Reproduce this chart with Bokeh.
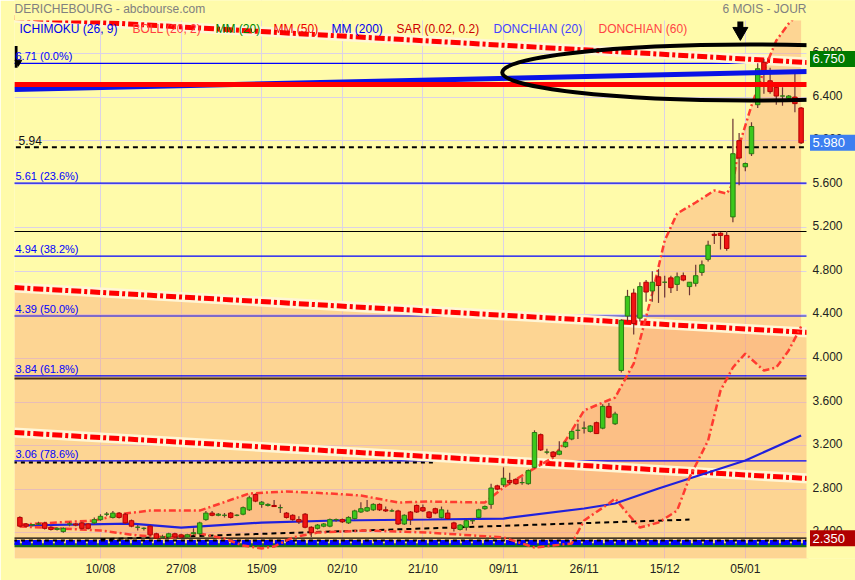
import numpy as np
from bokeh.plotting import figure
from bokeh.models import ColumnDataSource, FixedTicker, Label
from bokeh.embed import file_html
from bokeh.resources import INLINE
from bokeh.core.properties import value

# ---------------- data ----------------
tick_idx = [13, 26, 39, 52, 65, 78, 91, 104, 117]
tick_labels = ["10/08", "27/08", "15/09", "02/10", "21/10", "09/11", "26/11", "15/12", "05/01"]
price_ticks = [2.4, 2.8, 3.2, 3.6, 4.0, 4.4, 4.8, 5.2, 5.6, 6.0, 6.4, 6.8]

opens = [2.54, 2.48, 2.47, 2.48, 2.49, 2.45, 2.43, 2.41, 2.48, 2.48,
         2.49, 2.48, 2.49, 2.52, 2.57, 2.54, 2.58, 2.57, 2.51, 2.45,
         2.44, 2.46, 2.39, 2.36, 2.36, 2.39, 2.38, 2.36, 2.39, 2.39,
         2.52, 2.58, 2.56, 2.56, 2.58, 2.56, 2.57, 2.61, 2.75, 2.66,
         2.65, 2.65, 2.63, 2.58, 2.56, 2.52, 2.57, 2.45, 2.44, 2.46,
         2.46, 2.52, 2.52, 2.49, 2.53, 2.59, 2.60, 2.61, 2.66, 2.61,
         2.60, 2.60, 2.48, 2.59, 2.65, 2.63, 2.59, 2.62, 2.54, 2.58,
         2.49, 2.43, 2.45, 2.51, 2.54, 2.62, 2.66, 2.83, 2.84, 2.88,
         2.89, 2.86, 2.85, 3.00, 3.30, 3.14, 3.14, 3.12, 3.19, 3.26,
         3.34, 3.36, 3.33, 3.41, 3.36, 3.56, 3.40, 3.89, 4.39, 4.60,
         4.37, 4.70, 4.62, 4.75, 4.70, 4.74, 4.68, 4.76, 4.66, 4.69,
         4.79, 4.91, 5.14, 5.15, 5.13, 5.30, 6.00, 5.76, 5.88, 6.33,
         6.72, 6.55, 6.49, 6.41, 6.39, 6.40, 6.30]
highs = [2.55, 2.49, 2.48, 2.50, 2.50, 2.46, 2.45, 2.45, 2.50, 2.49,
         2.50, 2.49, 2.54, 2.57, 2.59, 2.60, 2.59, 2.58, 2.52, 2.47,
         2.45, 2.47, 2.40, 2.38, 2.40, 2.40, 2.39, 2.39, 2.44, 2.50,
         2.60, 2.60, 2.58, 2.58, 2.59, 2.57, 2.64, 2.74, 2.76, 2.69,
         2.67, 2.70, 2.66, 2.59, 2.57, 2.55, 2.58, 2.46, 2.48, 2.49,
         2.53, 2.53, 2.53, 2.55, 2.61, 2.68, 2.70, 2.67, 2.67, 2.64,
         2.62, 2.61, 2.57, 2.60, 2.66, 2.66, 2.60, 2.63, 2.64, 2.61,
         2.50, 2.48, 2.52, 2.53, 2.62, 2.65, 2.85, 2.84, 3.00, 2.95,
         2.90, 2.91, 2.98, 3.34, 3.31, 3.17, 3.15, 3.24, 3.24, 3.34,
         3.40, 3.42, 3.39, 3.42, 3.58, 3.59, 3.51, 4.36, 4.63, 4.64,
         4.70, 4.72, 4.80, 4.82, 4.76, 4.76, 4.79, 4.79, 4.70, 4.86,
         4.90, 5.08, 5.16, 5.16, 5.17, 6.20, 6.07, 5.80, 6.17, 6.71,
         6.75, 6.67, 6.50, 6.49, 6.42, 6.63, 6.31]
lows = [2.45, 2.45, 2.46, 2.47, 2.43, 2.42, 2.42, 2.40, 2.46, 2.46,
        2.43, 2.43, 2.48, 2.51, 2.55, 2.53, 2.53, 2.48, 2.45, 2.42,
        2.42, 2.37, 2.35, 2.35, 2.35, 2.35, 2.35, 2.35, 2.38, 2.38,
        2.51, 2.55, 2.55, 2.54, 2.53, 2.55, 2.56, 2.60, 2.68, 2.63,
        2.64, 2.64, 2.58, 2.53, 2.51, 2.48, 2.44, 2.36, 2.43, 2.45,
        2.45, 2.50, 2.49, 2.48, 2.52, 2.58, 2.59, 2.60, 2.60, 2.59,
        2.59, 2.47, 2.47, 2.47, 2.58, 2.59, 2.53, 2.57, 2.53, 2.52,
        2.41, 2.42, 2.42, 2.48, 2.53, 2.61, 2.62, 2.79, 2.82, 2.84,
        2.84, 2.84, 2.84, 2.99, 3.15, 3.12, 3.09, 3.11, 3.18, 3.25,
        3.26, 3.31, 3.32, 3.31, 3.35, 3.45, 3.39, 3.87, 4.34, 4.22,
        4.34, 4.52, 4.52, 4.51, 4.56, 4.60, 4.62, 4.71, 4.58, 4.66,
        4.76, 4.89, 5.05, 5.00, 4.99, 5.25, 5.59, 5.72, 5.86, 6.30,
        6.43, 6.43, 6.33, 6.32, 6.36, 6.26, 5.97]
closes = [2.46, 2.46, 2.475, 2.48, 2.44, 2.43, 2.44, 2.44, 2.48, 2.47,
          2.44, 2.44, 2.52, 2.55, 2.57, 2.58, 2.54, 2.49, 2.46, 2.45,
          2.44, 2.38, 2.35, 2.36, 2.39, 2.36, 2.36, 2.38, 2.40, 2.49,
          2.58, 2.56, 2.57, 2.56, 2.54, 2.56, 2.63, 2.72, 2.69, 2.68,
          2.66, 2.64, 2.63, 2.54, 2.52, 2.50, 2.45, 2.40, 2.47, 2.48,
          2.52, 2.52, 2.50, 2.54, 2.60, 2.62, 2.63, 2.66, 2.61, 2.60,
          2.60, 2.48, 2.56, 2.52, 2.59, 2.60, 2.54, 2.58, 2.61, 2.53,
          2.44, 2.47, 2.51, 2.51, 2.61, 2.64, 2.81, 2.80, 2.90, 2.86,
          2.85, 2.86, 2.97, 3.32, 3.16, 3.14, 3.10, 3.15, 3.23, 3.33,
          3.34, 3.36, 3.38, 3.31, 3.56, 3.46, 3.49, 4.35, 4.57, 4.32,
          4.66, 4.61, 4.70, 4.67, 4.70, 4.65, 4.75, 4.72, 4.70, 4.76,
          4.86, 5.04, 5.13, 5.13, 5.01, 5.88, 5.84, 5.79, 6.13, 6.66,
          6.62, 6.45, 6.41, 6.41, 6.41, 6.34, 5.98]

# Bollinger bands (read at anchor points)
boll_up_idx = [0, 12, 17, 21, 29, 37, 43, 50, 55, 61, 66, 75, 78, 81, 86, 88, 91, 94, 96,
               99, 102, 104, 106, 109, 112, 114, 115, 116, 118, 120, 122, 124, 126]
boll_up = [2.475, 2.512, 2.576, 2.603, 2.603, 2.760, 2.778, 2.760, 2.741, 2.677, 2.686,
           2.677, 2.815, 2.925, 3.090, 3.246, 3.522, 3.595, 3.641, 3.953, 4.596, 5.083,
           5.331, 5.432, 5.542, 5.514, 5.606, 5.955, 6.322, 6.644, 6.919, 7.075, 7.195]
boll_lo_idx = [0, 13, 19, 25, 29, 33, 36, 39, 41, 44, 48, 56, 66, 78, 83, 89, 91, 95, 96,
               98, 100, 103, 106, 108, 111, 113, 115, 117, 120, 122, 124, 126]
boll_lo = [2.457, 2.420, 2.374, 2.356, 2.392, 2.346, 2.282, 2.255, 2.273, 2.356, 2.401,
           2.420, 2.401, 2.356, 2.264, 2.300, 2.512, 2.668, 2.714, 2.576, 2.447, 2.493,
           2.603, 2.907, 3.246, 3.705, 3.917, 4.045, 3.889, 3.917, 4.073, 4.293]

# moving average (blue)
ma_idx = [0, 18, 26, 39, 51, 66, 78, 91, 96, 103, 108, 117, 126]
ma_val = [2.466, 2.484, 2.447, 2.493, 2.512, 2.521, 2.530, 2.622, 2.668, 2.806, 2.897, 3.063, 3.292]

# trend lines (two end points each)
trend_idx = [-0.9, 127.2]
trend_a = [4.651, 4.238]
trend_b = [3.320, 2.897]
trend_c = [7.131, 6.717]
blue_top = [6.469, 6.635]
red_top = [6.515, 6.515]
support_idx = [13, 108]
support_val = [2.34, 2.52]

# Fibonacci retracements
fib_levels = [6.71, 5.61, 4.94, 4.39, 3.84, 3.06]
fib_labels = ["6.71  (0.0%)", "5.61  (23.6%)", "4.94  (38.2%)", "4.39  (50.0%)",
              "3.84  (61.8%)", "3.06  (78.6%)"]
black_levels = [5.166, 3.816, 2.35]
dashed_level = 5.94
dashed_short_level = 3.045
dashed_short_end = 67
bottom_blue = 2.31
bottom_green = 2.285
bottom_dots = 2.328

# circled zone
ell_center = (117.8, 6.626)
ell_size = (80, 0.514)

# last values boxes
last_vals = [6.75, 5.98, 2.35]
last_texts = ["6.750", "5.980", "2.350"]

legend_items = ["ICHIMOKU (26, 9)", "BOLL (20, 2)", "MM (20)", "MM (50)", "MM (200)",
                "SAR (0.02, 0.2)", "DONCHIAN (20)", "DONCHIAN (60)"]

# ---------------- styling / layout ----------------
BG = "#FFFBAA"
FONT = "Liberation Sans"
PXI = 6.2                    # pixels per bar
PPU = 108.9                  # pixels per price unit
X0, X1 = -0.87, 126.87       # chart area (page x 14 .. 806)
XR = X1 + 49 / PXI           # canvas right edge (price scale lives inside the frame)
PLOT_TOP = 7.103             # top of the chart area (page y 20)
Y0, Y1 = 2.163, 7.287        # frame spans page y 0 .. 558
FULL = [-5, 150]

p = figure(width=855, height=580, x_range=(X0, XR), y_range=(Y0, Y1),
           output_backend="svg", toolbar_location=None, y_axis_location=None,
           min_border_left=14, min_border_right=0, min_border_top=0, min_border_bottom=22,
           background_fill_color=BG, border_fill_color=BG, outline_line_color=None)

p.xaxis.ticker = FixedTicker(ticks=tick_idx)
p.xaxis.major_label_overrides = {t: l for t, l in zip(tick_idx, tick_labels)}
ax = p.xaxis[0]
ax.axis_line_color = None
ax.major_tick_line_color = None
ax.minor_tick_line_color = None
ax.major_tick_out = 0
ax.major_label_text_font = FONT
ax.major_label_text_font_size = "12px"
ax.major_label_text_color = "#222222"
ax.major_label_standoff = 3
p.xgrid.ticker = FixedTicker(ticks=tick_idx)
p.ygrid.ticker = FixedTicker(ticks=price_ticks)
p.grid.grid_line_color = "#DCD2E6"
p.grid.grid_line_width = 1

ORANGE = (250, 157, 113)
# fill under the descending channel
p.varea(x=trend_idx, y1=[1.0, 1.0], y2=trend_a, fill_color=ORANGE, fill_alpha=0.4)
# bollinger fill
poly_x = list(boll_up_idx) + list(boll_lo_idx[::-1])
poly_y = list(boll_up) + list(boll_lo[::-1])
p.patch(poly_x, poly_y, fill_color=ORANGE, fill_alpha=0.4, line_color=None)

# horizontal levels
for lv in fib_levels:
    p.line(FULL, [lv, lv], line_color="#0000FF", line_width=1.2)
p.line(FULL, [black_levels[0]] * 2, line_color="#000000", line_width=1.2)
p.line(FULL, [black_levels[1]] * 2, line_color="#4A3010", line_width=2)
p.line(FULL, [dashed_level] * 2, line_color="#000000", line_width=2, line_dash="5 4")
p.line([FULL[0], dashed_short_end], [dashed_short_level] * 2, line_color="#000000",
       line_width=2, line_dash="4 4")

# bottom band lines
p.line(FULL, [bottom_green] * 2, line_color="#1E6E1E", line_width=4)
p.line(FULL, [bottom_blue] * 2, line_color="#0000FF", line_width=5, line_dash="9 2")
p.line(FULL, [bottom_dots] * 2, line_color="#000000", line_width=2, line_dash="4 4")
p.line(FULL, [black_levels[2]] * 2, line_color="#000000", line_width=1.2)

# trend lines with halo
for tv in (trend_a, trend_b, trend_c):
    p.line(trend_idx, tv, line_color="#FFF6D6", line_width=10)
    p.line(trend_idx, tv, line_color="#FF0000", line_width=5, line_dash="10 3 3 3")

# moving average and support
p.line(ma_idx, ma_val, line_color="#2020DD", line_width=2.2)
p.line(support_idx, support_val, line_color="#000000", line_width=2, line_dash="5 4")

# bollinger lines
p.line(boll_up_idx, boll_up, line_color="#FF3B30", line_width=2.5, line_dash="7 3 2 3")
p.line(boll_lo_idx, boll_lo, line_color="#FF3B30", line_width=2.5, line_dash="7 3 2 3")

# candles
idx = np.arange(len(opens))
o = np.array(opens); c = np.array(closes)
up = c >= o
src = ColumnDataSource(dict(
    x=idx, high=highs, low=lows,
    top=np.maximum(o, c), bottom=np.minimum(o, c),
    fill=np.where(up, "#3CC81C", "#F01414"),
    edge=np.where(up, "#2A7A12", "#B40000"),
))
p.segment(x0="x", y0="low", x1="x", y1="high", source=src, line_color="#6A3434", line_width=1.2)
p.vbar(x="x", top="top", bottom="bottom", width=0.72, source=src,
       fill_color="fill", line_color="edge", line_width=1)

# thick top lines and ellipse
p.line(trend_idx, blue_top, line_color="#0A14E6", line_width=5)
p.line(trend_idx, red_top, line_color="#FF0000", line_width=5)
p.ellipse(x=[ell_center[0]], y=[ell_center[1]], width=ell_size[0], height=ell_size[1],
          fill_color=None, line_color="#000000", line_width=4)

# header strip and price-scale strip (mask everything outside the chart area)
p.varea(x=FULL, y1=[PLOT_TOP, PLOT_TOP], y2=[Y1 + 1, Y1 + 1], fill_color=BG)
p.varea(x=[X1, FULL[1]], y1=[0, 0], y2=[10, 10], fill_color=BG)

# price scale labels
p.text(x=[X1] * len(price_ticks), y=price_ticks, text=["%.3f" % t for t in price_ticks],
       x_offset=6, y_offset=-2, text_font=value(FONT), text_font_size="12px",
       text_color="#222222", text_baseline="middle")

# last-value boxes
box_colors = ["#007A00", "#3D7FF0", "#B00000"]
box_x = X1 + (832 - 806) / PXI
p.rect(x=[box_x] * 3, y=last_vals, width=45, height=16, width_units="screen",
       height_units="screen", fill_color=box_colors, line_color=None)
p.text(x=[X1] * 3, y=last_vals, text=last_texts, x_offset=6,
       text_font=value(FONT), text_font_size="13px", text_color="white",
       text_baseline="middle")

# arrow "6 mois"
arrow_x = 116.2
p.segment(x0=[arrow_x], y0=[7.095], x1=[arrow_x], y1=[7.035], line_color="black", line_width=6)
p.scatter(x=[arrow_x], y=[7.0], marker="inverted_triangle", size=15, color="black")
# left marker
p.segment(x0=[X0 + 0.25], y0=[6.87], x1=[X0 + 0.25], y1=[6.67], line_color="black", line_width=3)
p.scatter(x=[X0 + 0.6], y=[6.72], marker="inverted_triangle", size=7, color="black")

# fib labels
p.text(x=[X0] * len(fib_levels), y=fib_levels, text=fib_labels, x_offset=1, y_offset=-1,
       text_font=value(FONT), text_font_size="11px", text_color="#0000FF",
       text_baseline="bottom")
p.add_layout(Label(x=X0, y=dashed_level, text="5.94", x_offset=4, y_offset=2,
                   text_font=FONT, text_font_size="12px", text_color="#111111",
                   text_baseline="bottom"))

# header texts (page y ~ 8)
head_y = PLOT_TOP + 12 / PPU
p.add_layout(Label(x=X0, y=head_y, text="DERICHEBOURG - abcbourse.com",
                   text_font=FONT, text_font_size="12px", text_color="#808080",
                   text_baseline="middle"))
p.add_layout(Label(x=X1, y=head_y, text="6 MOIS - JOUR",
                   text_font=FONT, text_font_size="12px", text_color="#808080",
                   text_baseline="middle", text_align="right"))

leg_colors = ["#0000EE", "#FF4040", "#008800", "#EE0000", "#0000EE", "#CC0000", "#4444FF", "#FF4444"]
leg_px = [19, 132, 215, 273, 331, 396, 493, 598]
leg_y = PLOT_TOP - 8 / PPU
for txt, col, px in zip(legend_items, leg_colors, leg_px):
    p.add_layout(Label(x=X0, y=leg_y, text=txt, x_offset=px - 14,
                       text_font=FONT, text_font_size="12px", text_color=col,
                       text_baseline="middle"))

open("out.html", "w").write(file_html(p, INLINE))
